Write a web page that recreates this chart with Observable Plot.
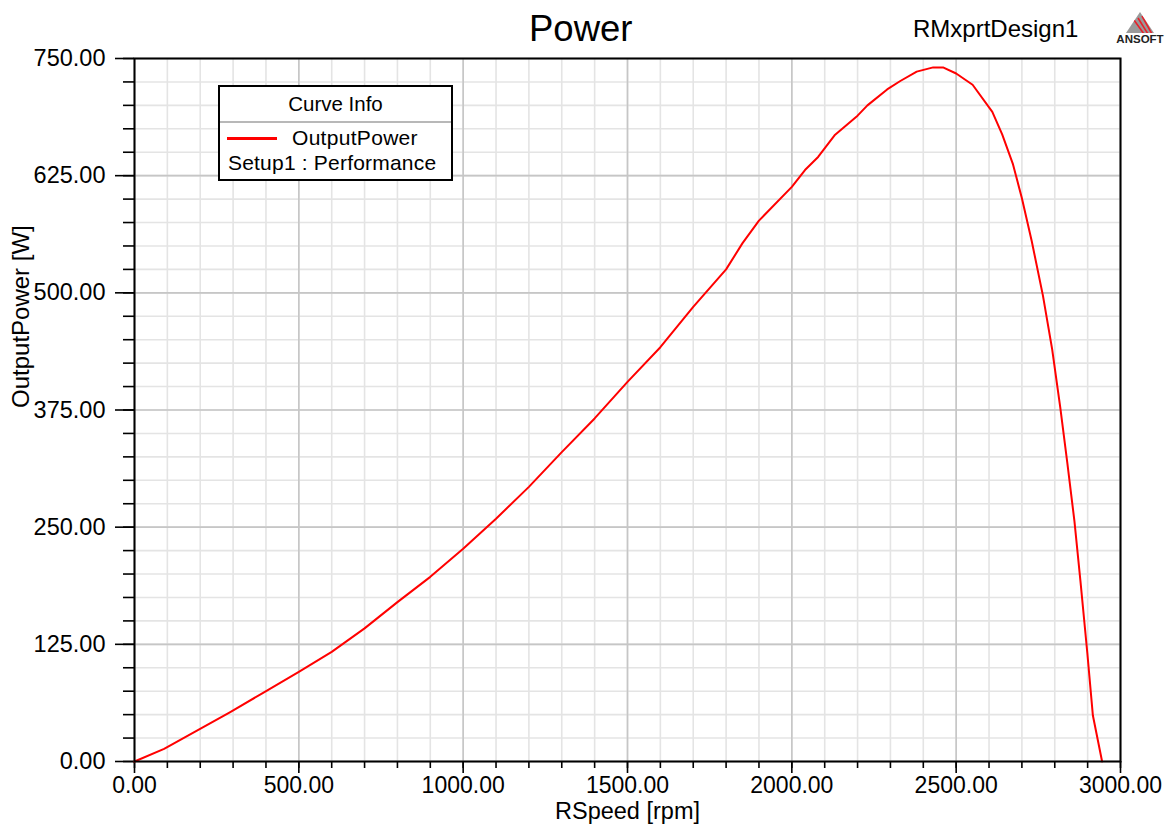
<!DOCTYPE html>
<html>
<head>
<meta charset="utf-8">
<script src="https://cdn.jsdelivr.net/npm/d3@7"></script>
<script src="https://cdn.jsdelivr.net/npm/@observablehq/plot@0.6"></script>
<style>
  html, body { margin: 0; padding: 0; background: white; }
  #wrap { position: relative; width: 1167px; height: 824px; font-family: "Liberation Sans", Arial, sans-serif; color: black; overflow: hidden; }
  #chart { position: absolute; left: 0; top: 0; }
  .abs { position: absolute; white-space: nowrap; }
  #title { left: 529px; top: 8px; font-size: 36.5px; }
  #design { left: 913px; top: 15px; font-size: 24px; }
  #logo { left: 1114px; top: 8px; }
  #legend { left: 218px; top: 85px; width: 231px; height: 92px; border: 2px solid black; background: white; }
  #legend .hdr { position: absolute; left: 0; top: 0; width: 100%; height: 34px; line-height: 34px; text-align: center; font-size: 20.5px; border-bottom: 2px solid #b8b8b8; }
  #legend .swatch { position: absolute; left: 7px; top: 50px; width: 50px; height: 3px; background: #ff0000; }
  #legend .name { position: absolute; left: 72px; top: 39px; font-size: 21px; letter-spacing: 0.3px; }
  #legend .setup { position: absolute; left: 8px; top: 64px; font-size: 21px; letter-spacing: 0.2px; }
</style>
</head>
<body>
<div id="wrap">
  <div id="chart"></div>
  <div id="title" class="abs">Power</div>
  <div id="design" class="abs">RMxprtDesign1</div>
  <div id="logo" class="abs">
    <svg width="52" height="36" viewBox="0 0 52 36">
      <defs>
        <clipPath id="tri"><polygon points="26,4 12,25 40,25"></polygon></clipPath>
      </defs>
      <polygon points="26,4 12,25 40,25" fill="#9a9a9a"></polygon>
      <g clip-path="url(#tri)" stroke="#e8202a" stroke-width="1.6">
        <line x1="20" y1="12" x2="30" y2="26"></line>
        <line x1="24" y1="10" x2="34" y2="26"></line>
        <line x1="28" y1="8" x2="38" y2="26"></line>
      </g>
      <text x="26" y="34.5" text-anchor="middle" font-family="Liberation Sans, Arial, sans-serif" font-weight="bold" font-size="11.5" fill="#222">ANSOFT</text>
    </svg>
  </div>
  <div id="legend" class="abs">
    <div class="hdr">Curve Info</div>
    <div class="swatch"></div>
    <div class="name">OutputPower</div>
    <div class="setup">Setup1 : Performance</div>
  </div>
</div>
<script>
// ---- data ----
const rpm = [0, 90, 190, 290, 390, 500, 600, 700, 800, 900, 1000, 1100, 1200, 1300, 1400, 1500, 1600, 1700, 1800, 1850, 1900, 2000, 2040, 2080, 2130, 2200, 2230, 2290, 2330, 2380, 2430, 2460, 2500, 2550, 2610, 2640, 2673, 2700, 2730, 2764, 2792, 2817, 2838, 2860, 2878, 2899, 2916, 2944];
const outputPower = [0, 13.5, 33, 52.5, 73, 95.5, 117, 142, 170, 197, 227, 259, 293, 330, 366, 405, 442, 485, 525, 553, 577, 613, 631, 645, 668, 689, 700, 717, 726, 736, 740.5, 740.5, 734, 722, 693, 669, 637, 601, 555, 497, 440, 377, 319, 256, 193, 116, 49, 0];

const xMajorTicks = [0, 500, 1000, 1500, 2000, 2500, 3000];
const xMinorTicks = d3.range(0, 3001, 100);
const yMajorTicks = [0, 125, 250, 375, 500, 625, 750];
const yMinorTicks = d3.range(0, 751, 25);
const xTitle = "RSpeed [rpm]";
const yTitle = "OutputPower [W]";

const fmt = d3.format(".2f");

const chart = Plot.plot({
  width: 1167,
  height: 824,
  marginLeft: 134,
  marginRight: 47,
  marginTop: 58,
  marginBottom: 63,
  style: { fontFamily: "Liberation Sans, Arial, sans-serif", background: "white", color: "black" },
  x: { domain: [0, 3000] },
  y: { domain: [0, 750] },
  marks: [
    Plot.gridX(xMinorTicks, { stroke: "#e4e4e4", strokeOpacity: 1, strokeWidth: 1.6 }),
    Plot.gridY(yMinorTicks, { stroke: "#e4e4e4", strokeOpacity: 1, strokeWidth: 1.6 }),
    Plot.gridX(xMajorTicks, { stroke: "#c6c6c6", strokeOpacity: 1, strokeWidth: 1.6 }),
    Plot.gridY(yMajorTicks, { stroke: "#c6c6c6", strokeOpacity: 1, strokeWidth: 1.6 }),
    Plot.axisX({ ticks: xMinorTicks, tickSize: 7, tickFormat: () => "", label: null, strokeWidth: 1.6 }),
    Plot.axisY({ ticks: yMinorTicks, tickSize: 11, tickFormat: () => "", label: null, strokeWidth: 1.6 }),
    Plot.axisX({ ticks: xMajorTicks, tickSize: 12, tickPadding: 3, tickFormat: fmt, label: null, fontSize: 23, strokeWidth: 1.6 }),
    Plot.axisY({ ticks: yMajorTicks, tickSize: 19, tickPadding: 10, tickFormat: fmt, label: null, fontSize: 23.5, strokeWidth: 1.6 }),
    Plot.line(rpm, { x: rpm, y: outputPower, stroke: "#ff0000", strokeWidth: 2 }),
    Plot.frame({ stroke: "black", strokeWidth: 2 }),
    Plot.text([xTitle], { text: d => d, frameAnchor: "bottom", dy: 50, fontSize: 23.5, lineAnchor: "middle" }),
    Plot.text([yTitle], { text: d => d, frameAnchor: "left", dx: -113, dy: -2, rotate: -90, fontSize: 24, lineAnchor: "middle" })
  ]
});
document.getElementById("chart").appendChild(chart);
</script>
</body>
</html>
